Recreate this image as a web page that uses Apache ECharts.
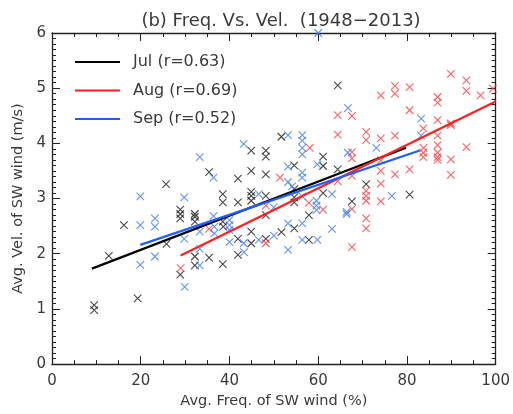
<!DOCTYPE html>
<html>
<head>
<meta charset="utf-8">
<script src="https://cdn.jsdelivr.net/npm/echarts@6/dist/echarts.min.js"></script>
<style>
html,body{margin:0;padding:0;background:#fff;}
#chart{width:513px;height:414px;}
</style>
</head>
<body>
<div id="chart"></div>
<script>
// ---- Data ----
var titleText = '(b) Freq. Vs. Vel.  (1948\u22122013)';
var xTicks = [0, 20, 40, 60, 80, 100];
var yTicks = [0, 1, 2, 3, 4, 5, 6];

var julPoints = [
  [9.5,1.07],[9.5,0.98],[12.8,1.96],[16.2,2.52],[19.3,1.19],[25.7,3.26],[25.8,2.18],
  [28.9,2.80],[28.9,2.72],[28.9,2.64],[28.9,1.62],[32.2,2.72],[32.2,2.67],[32.2,2.58],
  [32.2,1.95],[32.2,1.79],[35.4,3.48],[35.4,1.93],[38.5,3.08],[38.5,2.93],[38.5,2.58],
  [38.6,2.49],[38.5,1.81],[41.9,3.36],[41.9,2.93],[41.9,2.27],[41.9,1.98],[44.9,3.87],
  [44.9,3.50],[44.9,3.12],[44.9,3.05],[44.9,2.96],[44.9,2.40],[44.9,2.19],[48.2,3.87],
  [48.2,3.76],[48.2,3.44],[48.2,3.05],[48.2,2.70],[48.2,2.27],[51.7,4.12],[51.7,2.39],
  [54.6,3.60],[54.6,3.17],[54.6,3.02],[54.6,2.93],[54.6,2.46],[57.9,2.25],[57.9,2.70],
  [61.1,3.76],[61.1,3.59],[61.1,3.10],[64.4,5.05],[64.4,3.53],[67.6,2.95],[70.8,3.26],
  [80.6,3.07]
];
var augPoints = [
  [29.0,1.74],[35.4,2.45],[48.2,2.87],[48.2,2.19],[51.4,3.38],[57.9,2.92],[58.1,3.92],
  [61.1,2.80],[64.4,4.51],[64.4,4.16],[64.4,3.31],[67.6,4.50],[67.6,3.84],[67.6,3.73],
  [67.6,3.41],[67.6,2.81],[67.6,2.12],[70.8,4.21],[70.8,4.06],[70.8,3.14],[70.8,3.05],
  [70.8,2.96],[70.8,2.64],[70.8,2.46],[74.1,4.87],[74.1,4.09],[74.1,3.69],[74.1,3.50],
  [74.1,3.27],[74.1,2.95],[77.3,5.04],[77.3,4.90],[77.3,4.14],[77.3,3.44],[80.6,5.02],
  [80.6,4.60],[80.6,3.53],[83.7,4.27],[83.7,3.92],[83.7,3.83],[83.7,3.75],[86.9,4.84],
  [86.9,4.74],[86.9,4.42],[86.9,4.14],[86.9,3.97],[86.9,3.83],[86.9,3.75],[86.9,3.70],
  [89.9,5.26],[89.9,4.36],[89.9,4.33],[89.9,3.71],[89.9,3.43],[93.4,5.14],[93.4,4.95],
  [93.4,3.93],[96.6,4.87],[99.4,4.99]
];
var sepPoints = [
  [19.9,3.04],[19.9,2.52],[19.9,1.80],[23.2,2.64],[23.2,2.49],[23.2,1.95],[29.8,3.02],
  [29.8,2.27],[29.9,1.40],[33.3,3.75],[33.3,2.40],[33.3,2.09],[33.3,1.79],[36.4,3.38],
  [36.4,2.68],[36.6,2.49],[36.6,2.37],[40.0,2.61],[40.0,2.52],[40.0,2.43],[40.0,2.21],
  [43.2,3.99],[43.2,2.19],[43.3,2.03],[46.6,3.08],[46.6,2.25],[50.0,2.84],[50.0,2.33],
  [53.2,4.15],[53.2,3.58],[53.2,3.30],[54.1,3.22],[53.2,2.55],[53.2,2.07],[56.4,4.15],
  [56.4,4.05],[56.4,3.92],[56.4,3.80],[56.4,3.47],[56.4,3.38],[56.4,3.04],[56.4,2.55],
  [56.4,2.25],[59.8,3.62],[59.6,2.96],[59.6,2.87],[59.6,2.79],[59.8,2.25],[60.0,6.00],
  [63.1,3.08],[63.1,2.45],[66.7,4.64],[66.7,3.83],[66.4,2.76],[66.4,2.72],[73.1,3.92],
  [76.6,3.05],[83.2,4.45],[83.2,4.14]
];
// regression line end points
var julFit = [[9.0,1.73],[79.8,3.92]];
var augFit = [[29.0,1.97],[100,4.76]];
var sepFit = [[19.9,2.16],[82.9,3.87]];
var seriesNames = ['Jul (r=0.63)', 'Aug (r=0.69)', 'Sep (r=0.52)'];
var axisNames = ['Avg. Freq. of SW wind (%)', 'Avg. Vel. of SW wind (m/s)'];

// ---- Styles ----
var FONT = 'DejaVu Sans';
var lineColors = ['#000000', '#ff1f1f', '#1f5fff'];
var markColors = ['#1a1a1a', '#ff3a3a', '#3a78ff'];
var crossPath = 'path://M0,0L10,10M10,0L0,10';

function scatter(name, data, c) {
  return {
    name: name, type: 'scatter', data: data, symbol: crossPath, symbolSize: 7.5,
    clip: false, silent: true,
    itemStyle: { color: 'rgba(0,0,0,0)', borderColor: c, borderWidth: 1.1 },
    z: 2
  };
}
function fit(name, data, c) {
  return {
    name: name, type: 'line', data: data, symbol: 'none', silent: true,
    lineStyle: { color: c, width: 2.2 }, itemStyle: { color: c }, z: 3
  };
}

function xAxisDef(pos, showLabel) {
  return {
    type: 'value', position: pos, min: 0, max: 100, interval: 20,
    name: showLabel ? axisNames[0] : '', nameLocation: 'middle', nameGap: 27,
    nameTextStyle: { fontFamily: FONT, fontSize: 14.5, color: '#3a3a3a' },
    axisLine: { show: true, onZero: false, lineStyle: { color: '#222', width: 1.3 } },
    axisTick: { show: true, inside: true, length: 8, lineStyle: { color: '#222', width: 1 } },
    minorTick: { show: true, splitNumber: 4, length: 4, lineStyle: { color: '#222', width: 1 } },
    axisLabel: { show: showLabel, margin: 10, fontFamily: FONT, fontSize: 15, color: '#3a3a3a',
      formatter: function (v) { return xTicks.indexOf(v) >= 0 ? String(v) : ''; } },
    splitLine: { show: false }
  };
}
function yAxisDef(pos, showLabel) {
  return {
    type: 'value', position: pos, min: 0, max: 6, interval: 1,
    name: showLabel ? axisNames[1] : '', nameLocation: 'middle', nameGap: 23, nameRotate: 90,
    nameTextStyle: { fontFamily: FONT, fontSize: 14.5, color: '#3a3a3a' },
    axisLine: { show: true, onZero: false, lineStyle: { color: '#222', width: 1.3 } },
    axisTick: { show: true, inside: true, length: 8, lineStyle: { color: '#222', width: 1 } },
    minorTick: { show: true, splitNumber: 10, length: 4, lineStyle: { color: '#222', width: 1 } },
    axisLabel: { show: showLabel, margin: 6, fontFamily: FONT, fontSize: 15, color: '#3a3a3a',
      formatter: function (v) { return yTicks.indexOf(v) >= 0 ? String(v) : ''; } },
    splitLine: { show: false }
  };
}

var chart = echarts.init(document.getElementById('chart'), null, { renderer: 'canvas' });
chart.setOption({
  animation: false,
  backgroundColor: '#ffffff',
  title: {
    text: titleText, left: 276, top: 7, textAlign: 'center',
    textStyle: { fontFamily: FONT, fontSize: 18, fontWeight: 'normal', color: '#3a3a3a' }
  },
  grid: { left: 52, right: 12, top: 33, bottom: 45 },
  legend: {
    data: seriesNames.map(function (n) { return { name: n, icon: 'rect' }; }),
    orient: 'vertical', left: 75, top: 54, padding: 0,
    itemWidth: 45, itemHeight: 2.2, itemGap: 12.5,
    textStyle: { fontFamily: FONT, fontSize: 16, lineHeight: 14, color: '#3a3a3a', padding: [0, 0, 0, 8] },
    selectedMode: false
  },
  xAxis: [xAxisDef('bottom', true), xAxisDef('top', false)],
  yAxis: [yAxisDef('left', true), yAxisDef('right', false)],
  series: [
    scatter('jul-pts', julPoints, markColors[0]),
    scatter('aug-pts', augPoints, markColors[1]),
    scatter('sep-pts', sepPoints, markColors[2]),
    fit(seriesNames[0], julFit, lineColors[0]),
    fit(seriesNames[1], augFit, lineColors[1]),
    fit(seriesNames[2], sepFit, lineColors[2])
  ]
});
</script>
</body>
</html>
